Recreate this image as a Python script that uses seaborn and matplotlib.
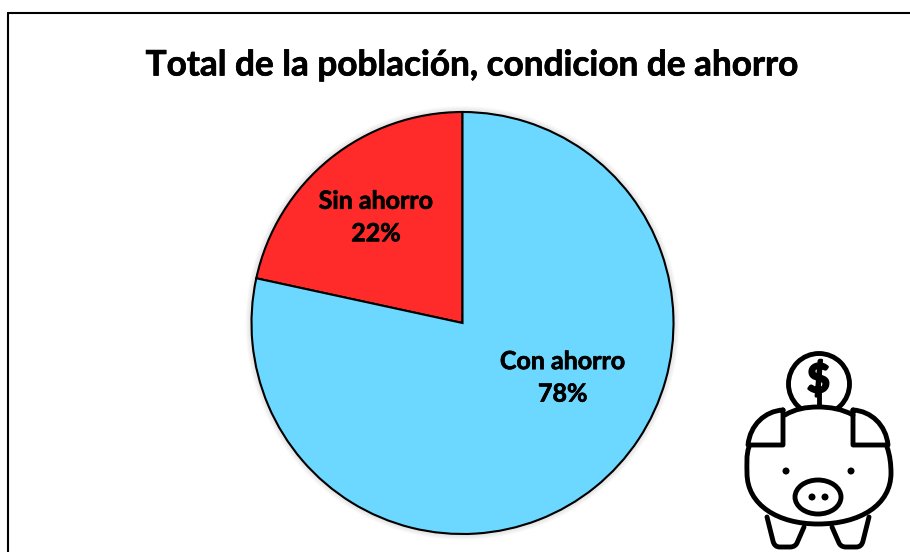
# -*- coding: utf-8 -*-
import seaborn as sns
from matplotlib import pyplot as plt
from matplotlib import patheffects as pe
from matplotlib.patches import Circle, Ellipse, PathPatch
from matplotlib.path import Path

categorias = ["Sin ahorro", "Con ahorro"]
porcentajes = [21.6, 78.4]
colores = ["#FF2A2A", "#6CD8FF"]
titulo = "Total de la población, condicion de ahorro"

sns.set_theme(style="white")
plt.rcParams["font.family"] = ["Lato", "DejaVu Sans"]

W, H = 910, 552
fig = plt.figure(figsize=(W / 100, H / 100), dpi=100, facecolor="white")

# the reference font is a bit heavier than Lato Bold
grueso = [pe.withStroke(linewidth=0.5, foreground="black")]

# overlay in pixel coordinates for frame, title and the icon
over = fig.add_axes([0, 0, 1, 1], zorder=3)
over.set_xlim(0, W)
over.set_ylim(H, 0)
over.axis("off")
over.patch.set_alpha(0)

# soft shadow behind the pie
cx, cy, r = 462.5, 323, 211
back = fig.add_axes([0, 0, 1, 1], zorder=0)
back.set_xlim(0, W)
back.set_ylim(H, 0)
back.axis("off")
for i in range(6):
    back.add_patch(Circle((cx, cy), r + 6 - i, fc="black", ec="none", alpha=0.018))

# pie
ax = fig.add_axes([(cx - r) / W, (H - cy - r) / H, 2 * r / W, 2 * r / H], zorder=1)
ax.patch.set_alpha(0)
etiquetas = [f"{c}\n{round(p)}%" for c, p in zip(categorias, porcentajes)]
wedges, texts = ax.pie(porcentajes, labels=etiquetas, colors=colores, startangle=90,
                       wedgeprops=dict(edgecolor="black", linewidth=1.5, clip_on=False),
                       textprops=dict(fontsize=18, fontweight="bold", color="black",
                                      ha="center", va="center", linespacing=1.5))
ax.set_xlim(-1, 1)
ax.set_ylim(-1, 1)
for t, pos in zip(texts, [(-0.41, 0.5), (0.475, -0.26)]):
    t.set_position(pos)
    t.set_ha("center")
    t.set_va("center")
    t.set_path_effects(grueso)

# frame: only top and left lines are visible
over.plot([8, 8], [13, H], color="black", lw=1.5)
over.plot([8, W], [13, 13], color="black", lw=1.5)

over.text(471.5, 65.5, titulo, fontsize=25.3, fontweight="bold", color="black",
          ha="center", va="center", path_effects=grueso)

# piggy bank icon
lw = 3.5
k = dict(fc="none", ec="black", lw=lw, capstyle="round", joinstyle="round")
over.add_patch(Circle((819, 384), 30.5, fc="white", ec="black", lw=lw))
over.text(818.5, 380, "$", fontsize=28, fontweight="bold", color="black",
          ha="center", va="center",
          path_effects=[pe.withStroke(linewidth=1.8, foreground="black")])
over.plot([818.5, 818.5], [393, 405], color="black", lw=lw)

M, L, C = Path.MOVETO, Path.LINETO, Path.CURVE4
# body outline, filled white so it covers the lower edge of the coin
body = [((749, 447), M),
        ((746, 455), C), ((747, 465), C), ((747, 473), C),
        ((747, 505), C), ((778, 524), C), ((818, 524), C),
        ((860, 524), C), ((891, 505), C), ((891, 473), C),
        ((891, 465), C), ((890, 455), C), ((887, 447), C),
        ((853, 447), L), ((853, 415), L),
        ((842, 409), C), ((830, 407), C), ((818, 407), C),
        ((806, 407), C), ((795, 409), C), ((785, 415), C),
        ((783, 447), L), ((749, 447), L)]
verts, codes = zip(*body)
over.add_patch(PathPatch(Path(verts, codes), fc="white", ec="none", zorder=2))

outline = [((749, 447), M),
           ((746, 455), C), ((747, 465), C), ((747, 473), C),
           ((747, 505), C), ((778, 524), C), ((818, 524), C),
           ((860, 524), C), ((891, 505), C), ((891, 473), C),
           ((891, 465), C), ((890, 455), C), ((887, 447), C)]
top = [((785, 415), M),
       ((795, 409), C), ((806, 407), C), ((818, 407), C),
       ((830, 407), C), ((842, 409), C), ((853, 415), C)]
ear_l = [((783, 410), M), ((783, 445), L), ((748, 445), L),
         ((750, 425), C), ((765, 411), C), ((783, 410), C)]
ear_r = [((853, 410), M), ((853, 445), L), ((888, 445), L),
         ((886, 425), C), ((871, 411), C), ((853, 410), C)]
foot_l = [((767, 517), M), ((773, 541), L),
          ((774, 545), C), ((776, 547), C), ((780, 547), C),
          ((790, 547), L),
          ((794, 547), C), ((796, 545), C), ((797, 543), C),
          ((804, 527), L)]
foot_r = [((832, 527), M), ((839, 543), L),
          ((840, 545), C), ((842, 547), C), ((846, 547), C),
          ((856, 547), L),
          ((860, 547), C), ((862, 545), C), ((863, 541), C),
          ((869, 517), L)]
for part in [outline, top, ear_l, ear_r, foot_l, foot_r]:
    verts, codes = zip(*part)
    over.add_patch(PathPatch(Path(verts, codes), zorder=3, **k))

over.add_patch(Ellipse((818, 497), 46, 34, zorder=3, **k))
for x, y, rad in [(786, 471, 3.5), (851, 471, 3.5), (812, 497, 3.5), (825, 497, 3.5)]:
    over.add_patch(Circle((x, y), rad, fc="black", ec="none", zorder=3))

fig.savefig("out.png", dpi=100)
